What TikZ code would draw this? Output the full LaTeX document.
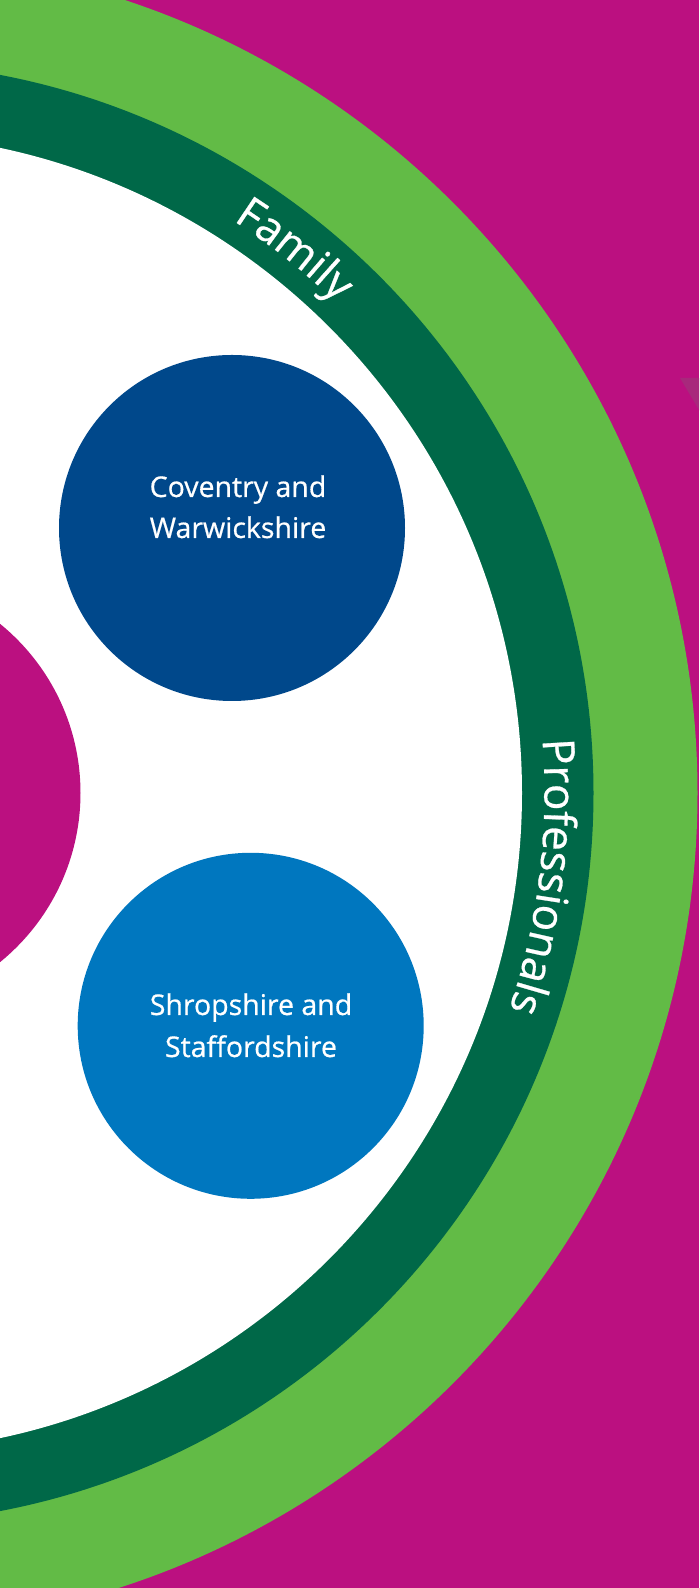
\documentclass[tikz,border=0pt]{standalone}
\usepackage{fontspec}
\setmainfont[FakeBold=0.6]{Open Sans}
\usetikzlibrary{calc,decorations.text}
\definecolor{bgmagenta}{HTML}{BB1080}
\definecolor{ringlight}{HTML}{62BB46}
\definecolor{ringdark}{HTML}{006848}
\definecolor{navyblue}{HTML}{00488B}
\definecolor{midblue}{HTML}{0077BF}
\definecolor{shadetri}{HTML}{A8287C}
\newcommand\arcfont{\fontsize{44}{44}\selectfont}
\newcommand\discfont{\fontsize{28.5}{41}\selectfont}
\tikzset{
  disc/.style={circle, inner sep=0pt, minimum size=346pt},
  disclabel/.style={text=white, font=\discfont, anchor=base, inner sep=0pt},
  arclabel/.style={decorate, decoration={text along path, text align=center,
      text color=white, text={|\arcfont|#1}}}
}
\begin{document}
\begin{tikzpicture}[x=1pt,y=1pt]
\useasboundingbox (0,0) rectangle (699,1588);
\begin{scope}
  \clip (0,0) rectangle (699,1588);
  \fill[bgmagenta] (0,0) rectangle (699,1588);
  % concentric rings around a hub left of the page
  \coordinate (hub) at (-137.5,795);
  \fill[ringlight] (hub) circle[radius=835];
  \fill[ringdark] (hub) circle[radius=731];
  \fill[white] (hub) circle[radius=659.5];
  \fill[bgmagenta] (hub) circle[radius=218];
  % small shaded wedge at the right edge
  \coordinate (t1) at (680,1210);
  \coordinate (t2) at (705,1210);
  \coordinate (t3) at (705,1168);
  \fill[shadetri] (t1) -- (t2) -- (t3) -- cycle;
  % the two regions
  \node[disc, fill=navyblue] (cov) at (232,1060) {};
  \node[disc, fill=midblue] (shr) at (250.7,562.2) {};
  \node[disclabel] (covA) at (238,1091) {Coventry and};
  \node[disclabel] (covB) at (238,1050) {Warwickshire};
  \node[disclabel] (shrA) at (251,573) {Shropshire and};
  \node[disclabel] (shrB) at (251,531) {Staffordshire};
  % ring labels
  \path[arclabel=Family] ($(hub)+(71.5:682)$) arc[start angle=71.5, end angle=31.5, radius=682];
  \path[arclabel=Professionals] ($(hub)+(13:682)$) arc[start angle=13, end angle=-27, radius=682];
\end{scope}
\end{tikzpicture}
\end{document}
